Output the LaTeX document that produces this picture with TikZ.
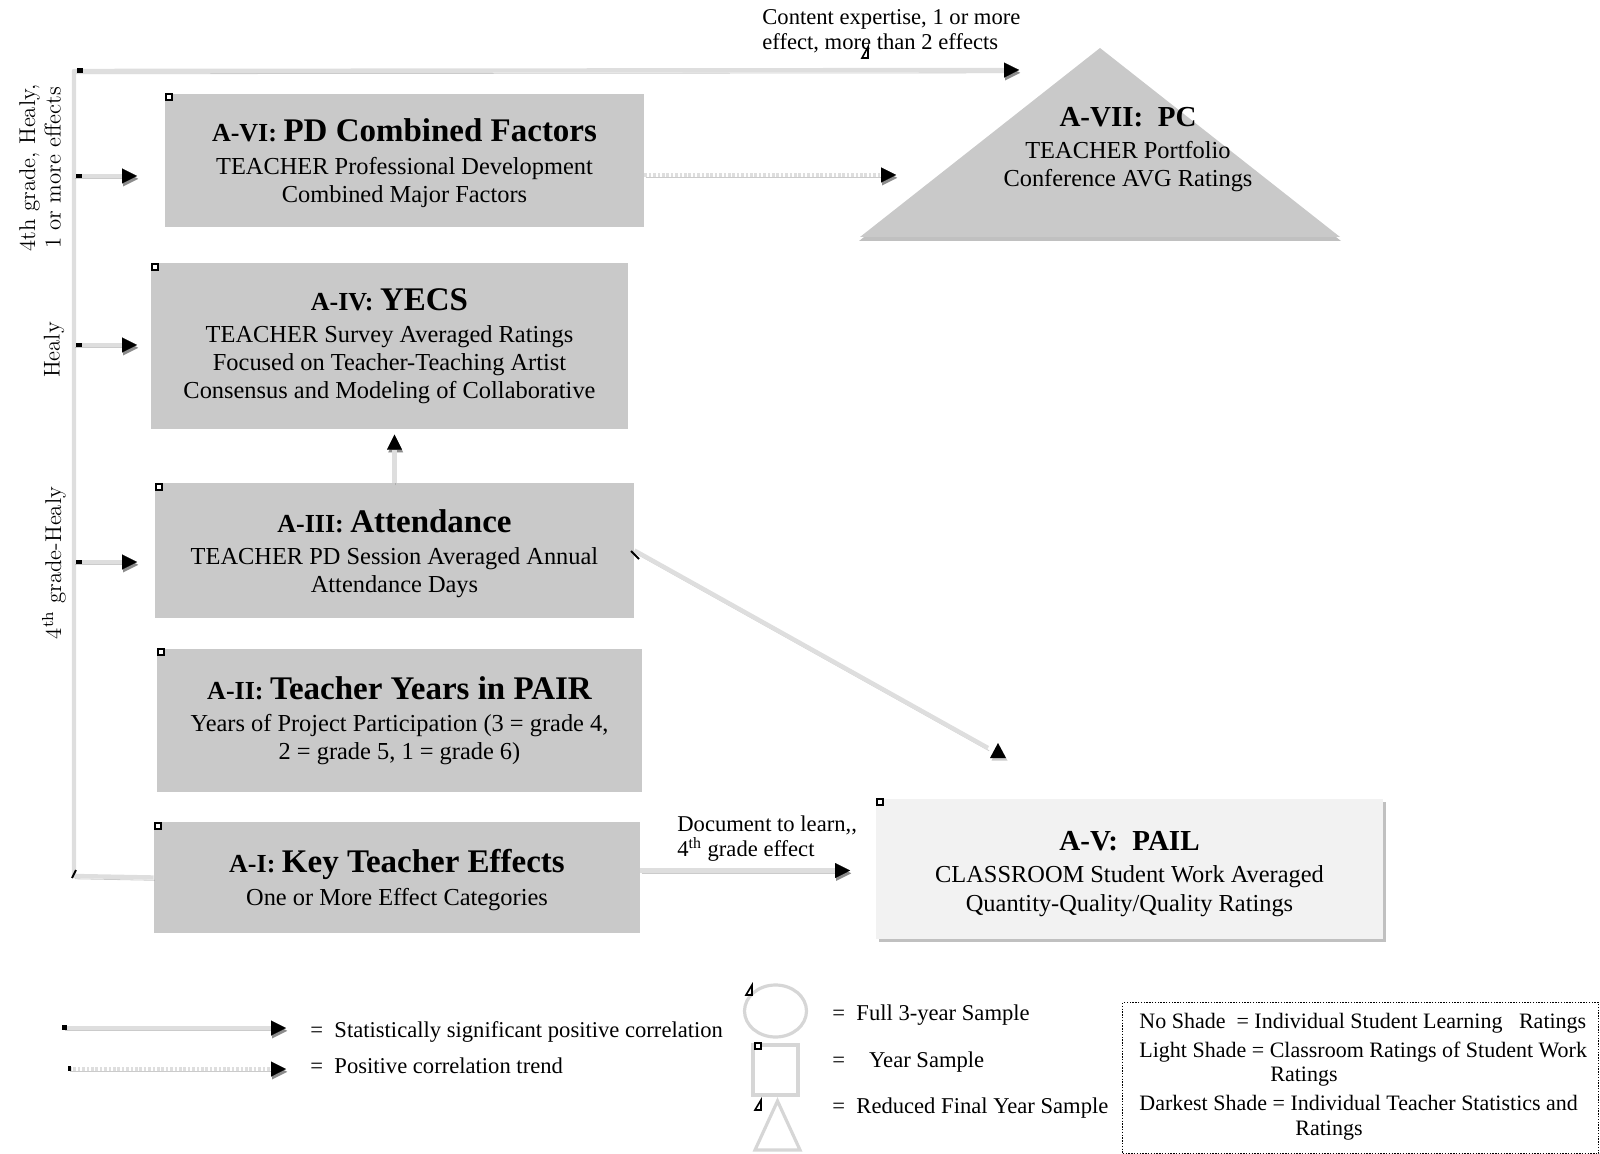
\documentclass[tikz,border=0pt]{standalone}
\usepackage{fontspec}
\newfontfamily\cam{Liberation Serif}
\usetikzlibrary{arrows.meta,calc}
\definecolor{boxgray}{HTML}{C9C9C9}
\definecolor{lightbox}{HTML}{F2F2F2}
\definecolor{linegray}{HTML}{DEDEDE}
\definecolor{shadegray}{HTML}{8C8C8C}
\definecolor{outlinegray}{HTML}{D6D6D6}

% box headings: smaller code prefix, larger bold name
\newcommand\boxtitle[2]{{\fontsize{13}{14}\selectfont\bfseries #1}{\fontsize{16.5}{14}\selectfont\bfseries #2}}
\newcommand\evenTitle[1]{{\fontsize{14.5}{14}\selectfont\bfseries #1}}
% taller first line pushes a centred block slightly down
\newcommand\lift{\rule{0pt}{14.5pt}}

\begin{document}
\begin{tikzpicture}[
  x=0.5pt, y=-0.5pt,
  darkbox/.style={rectangle, fill=boxgray, inner sep=0pt, align=center,
    font=\cam\fontsize{12.2}{14}\selectfont},
  paleBox/.style={rectangle, fill=lightbox, inner sep=0pt, align=center,
    font=\cam\fontsize{12.2}{14.5}\selectfont,
    preaction={fill=shadegray, fill opacity=.55, transform canvas={shift={(1.4pt,-1.6pt)}}}},
  labeltext/.style={inner sep=0pt, font=\cam\fontsize{11.3}{12.5}\selectfont, align=left},
  sidelabel/.style={inner sep=0pt, rotate=90, align=center, font=\rmfamily\fontsize{11.4}{12.75}\selectfont},
  conn/.style={draw=linegray, line width=2.2pt, line join=round,
    preaction={draw=shadegray, draw opacity=.45, transform canvas={shift={(0.6pt,-1.4pt)}}}},
  connarrow/.style={draw=linegray, line width=2.2pt, line join=round,
    -{Triangle[length=7.5pt,width=7.5pt,line width=0.01pt,color=black]},
    preaction={draw=shadegray, draw opacity=.45,
      -{Triangle[length=7.5pt,width=7.5pt,line width=0.01pt,color=shadegray]},
      transform canvas={shift={(0.6pt,-1.4pt)}}}},
  trendarrow/.style={connarrow, dash pattern=on 1.3pt off 0.9pt},
  anchormark/.style={draw=black, fill=white, line width=0.6pt},
  tickmark/.style={fill=black},
  slashmark/.style={draw=black, line width=0.9pt},
  shapeline/.style={draw=outlinegray, line width=1.6pt},
]
\useasboundingbox (0,0) rectangle (1600,1154);

% ---------- teacher-level boxes ----------
\node[darkbox, minimum width=479*0.5pt, minimum height=133*0.5pt] (avi) at (404.5,160.5)
  {\lift\boxtitle{A-VI: }{PD Combined Factors}\\[2.5pt]TEACHER Professional Development\\Combined Major Factors};
\node[darkbox, minimum width=477*0.5pt, minimum height=166*0.5pt] (aiv) at (389.5,346)
  {\boxtitle{A-IV: }{YECS}\\[2pt]TEACHER Survey Averaged Ratings\\Focused on Teacher-Teaching Artist\\Consensus and Modeling of Collaborative};
\node[darkbox, minimum width=479*0.5pt, minimum height=135*0.5pt] (aiii) at (394.5,550.5)
  {\lift\boxtitle{A-III: }{Attendance}\\[2pt]TEACHER PD Session Averaged Annual\\Attendance Days};
\node[darkbox, minimum width=485*0.5pt, minimum height=143*0.5pt] (aii) at (399.5,720.5)
  {\boxtitle{A-II: }{Teacher Years in PAIR}\\[2pt]Years of Project Participation (3 = grade 4,\\2 = grade 5, 1 = grade 6)};
\node[darkbox, minimum width=486*0.5pt, minimum height=111*0.5pt] (ai) at (397,877.5)
  {\lift\boxtitle{A-I: }{Key Teacher Effects}\\[2.5pt]One or More Effect Categories};

% ---------- classroom box ----------
\node[paleBox, minimum width=507*0.5pt, minimum height=140*0.5pt] (av) at (1129.5,869)
  {\lift\evenTitle{A-V:\ \ PAIL}\\[1.5pt]CLASSROOM Student Work Averaged\\Quantity-Quality/Quality Ratings};

% ---------- portfolio triangle ----------
\fill[shadegray, opacity=.55] (1100,51) -- (1341,241) -- (859,241) -- cycle;
\fill[boxgray] (1100,48) -- (1340,237) -- (860,237) -- cycle;
\node[inner sep=0pt, align=center, font=\cam\fontsize{12.2}{14}\selectfont] (avii) at (1128,150)
  {\evenTitle{A-VII:\ \ PC}\\[2pt]TEACHER Portfolio\\Conference AVG Ratings};

% ---------- connector end points ----------
\coordinate (trunkTop) at (74,71);
\coordinate (trunkBot) at (74,876);
\coordinate (topEnd) at (1019,70);
\coordinate (b6) at (74,176);   \coordinate (e6) at (137,176);
\coordinate (b4) at (74,345);   \coordinate (e4) at (137,345);
\coordinate (b3) at (74,562);   \coordinate (e3) at (137,562);
\coordinate (trendEnd) at (896,175);
\coordinate (diagEnd) at (988,748);
\coordinate (docEnd) at (850,870.5);

% ---------- connectors ----------
\draw[connarrow] (ai.west) -- (trunkBot) -- (trunkTop) -- (topEnd);
\draw[connarrow] (b6) -- (e6);
\draw[connarrow] (b4) -- (e4);
\draw[connarrow] (b3) -- (e3);
\draw[trendarrow] ($(avi.east)+(0,14.5)$) -- (trendEnd);
\draw[connarrow] (aiii.north) -- ++(0,-48);
\draw[conn] (aiii.east) -- (diagEnd);
\fill[shadegray, opacity=.45] (999.5,745.5) -- (1007.5,760.5) -- (991.5,760.5) -- cycle;
\fill[black] (998,743) -- (1006,758) -- (990,758) -- cycle;
\draw[connarrow] ($(ai.east)+(0,-7)$) -- (docEnd);

% ---------- small anchor marks ----------
\fill[tickmark] (77,68) rectangle (83,73);
\fill[tickmark] (76,174) rectangle (82,178);
\fill[tickmark] (76,343) rectangle (82,347);
\fill[tickmark] (76,560) rectangle (82,564);
\draw[slashmark] (72,878) -- (76,870);
\draw[slashmark] (631,551) -- (639,559);
\draw[anchormark] (166,94) rectangle ++(6,6);
\draw[anchormark] (152,264) rectangle ++(6,6);
\draw[anchormark] (156,484) rectangle ++(6,6);
\draw[anchormark] (158,649) rectangle ++(6,6);
\draw[anchormark] (155,823) rectangle ++(6,6);
\draw[anchormark] (877,799) rectangle ++(6,6);
\draw[line width=0.8pt] (862,58) -- (868,47) -- (868,58) -- cycle;

% ---------- connector labels ----------
\node[labeltext, anchor=west] (topLabel) at (762,31)
  {Content expertise, 1 or more\\effect, more than 2 effects};
\node[labeltext, anchor=west] (docLabel) at (677,838.5)
  {Document to learn,,\\4\textsuperscript{th} grade effect};
\node[sidelabel] (sideA) at (40,168) {4th grade, Healy,\\1 or more effects};
\node[sidelabel] (sideB) at (54,350) {Healy};
\node[sidelabel] (sideC) at (54,563) {4\textsuperscript{th} grade-Healy};

% ---------- legend: line styles ----------
\coordinate (ls0) at (64,1028);  \coordinate (ls1) at (286,1028);
\coordinate (lt0) at (69,1069);  \coordinate (lt1) at (286,1069);
\draw[connarrow] (ls0) -- (ls1);
\draw[trendarrow] (lt0) -- (lt1);
\fill[tickmark] (62,1025) rectangle (67,1030);
\fill[tickmark] (68,1066) rectangle (71,1071);
\node[labeltext, anchor=west] (keySig) at (310,1032) {=\ \ Statistically significant positive correlation};
\node[labeltext, anchor=west] (keyTrend) at (310,1066) {=\ \ Positive correlation trend};

% ---------- legend: sample shapes ----------
\draw[shapeline] (775.5,1011) ellipse [x radius=15.5pt, y radius=13pt];
\draw[shapeline] (753,1045) rectangle (798,1095);
\draw[shapeline] (777.5,1101) -- (800,1150) -- (755,1150) -- cycle;
\draw[line width=0.8pt] (746,995) -- (752,985) -- (752,995) -- cycle;
\draw[line width=0.8pt] (755,1110) -- (761,1100) -- (761,1110) -- cycle;
\draw[anchormark] (755,1043) rectangle ++(6,6);
\node[labeltext, anchor=west] (keyFull) at (832,1015) {=\ \ Full 3-year Sample};
\node[labeltext, anchor=west] (keyYear) at (832,1062) {=\hspace{12pt}Year Sample};
\node[labeltext, anchor=west] (keyReduced) at (832,1108) {=\ \ Reduced Final Year Sample};

% ---------- legend: shading key ----------
\node[draw=black, line width=0.7pt, dash pattern=on 0.7pt off 0.7pt, inner sep=0pt,
      anchor=north west, minimum width=238pt, minimum height=75.5pt] (shadeBox) at (1122,1002) {};
\node[inner sep=0pt, anchor=north west, align=left,
      font=\cam\fontsize{11}{12.2}\selectfont] (shadeKey) at (1139,1013)
  {No Shade\ \ = Individual Student Learning\ \ \ Ratings\\[2pt]
   Light Shade = Classroom Ratings of Student Work\\
   \hspace*{65.5pt}Ratings\\[2.5pt]
   Darkest Shade = Individual Teacher Statistics and\\
   \hspace*{78pt}Ratings};
\end{tikzpicture}
\end{document}
